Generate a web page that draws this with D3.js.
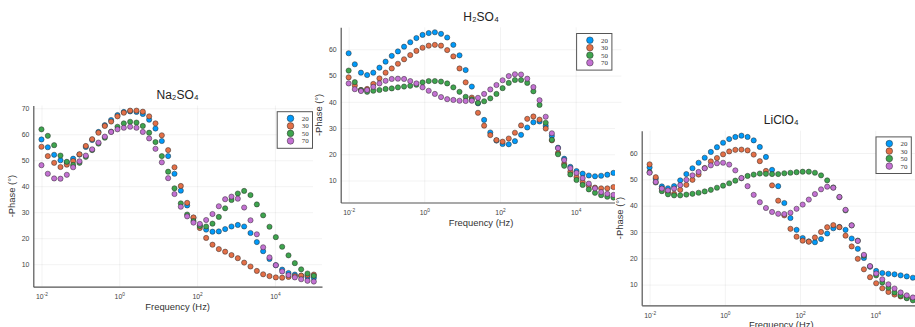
<!DOCTYPE html>
<html>
<head>
<meta charset="utf-8">
<script src="https://cdn.jsdelivr.net/npm/d3@7"></script>
<style>
  body { margin: 0; background: #fff; }
  svg { display: block; }
</style>
</head>
<body>
<svg id="chart" width="915" height="327"></svg>
<script>
// Measurement frequencies (Hz), log-spaced from 10 mHz to 100 kHz
const frequency = [0.01, 0.01455, 0.02117, 0.0308, 0.04481, 0.06518, 0.09478, 0.1379, 0.2007, 0.2919,
  0.4247, 0.6178, 0.8988, 1.307, 1.902, 2.767, 4.025, 5.855, 8.517, 12.39,
  18.02, 26.22, 38.14, 55.49, 80.72, 117.4, 170.8, 248.5, 361.5, 525.9,
  765.1, 1113, 1619, 2356, 3427, 4985, 7252, 10550, 15350, 22330,
  32480, 47250, 68740, 100000];

const seriesNames = ["20", "30", "50", "70"];
const seriesColors = ["#009AFA", "#E36F47", "#3EA44E", "#C371D2"];
const panelTitles = ["Na₂SO₄", "H₂SO₄", "LiClO₄"];
const yTickValues = [10, 20, 30, 40, 50, 60, 70];
const xTickExponents = [-2, 0, 2, 4];
const xLabel = "Frequency (Hz)";
const yLabel = "-Phase (°)";

// -Phase (degrees) per electrolyte and temperature
const na2so4_20 = [58.0, 55.0, 52.1, 50.0, 49.2, 50.6, 52.2, 55.1, 57.8, 60.9, 63.5, 65.5, 67.4, 68.6, 68.8, 68.6, 67.8, 65.6, 62.2, 57.4, 51.6, 44.8, 38.3, 32.6, 27.8, 24.8, 23.3, 22.5, 22.6, 23.5, 24.5, 25.1, 24.5, 22.0, 18.5, 15.0, 12.0, 9.6, 7.9, 6.6, 6.0, 5.5, 5.1, 4.7];
const na2so4_30 = [55.2, 51.6, 49.0, 47.4, 48.3, 49.7, 52.3, 55.5, 58.1, 60.6, 63.2, 64.9, 66.9, 68.3, 69.1, 69.1, 68.7, 66.9, 64.2, 59.6, 53.9, 47.3, 40.1, 33.6, 28.0, 23.9, 20.1, 17.5, 15.8, 14.8, 13.5, 12.3, 10.6, 9.1, 7.4, 6.1, 5.4, 4.9, 4.8, 5.1, 5.4, 5.6, 5.8, 6.0];
const na2so4_50 = [61.9, 59.4, 55.8, 51.8, 49.4, 48.2, 49.0, 51.3, 53.9, 56.4, 58.7, 61.0, 62.9, 64.2, 64.8, 64.5, 63.2, 60.6, 57.0, 51.6, 45.6, 39.2, 33.4, 29.1, 26.6, 24.7, 24.5, 25.6, 28.2, 31.5, 34.7, 37.2, 38.2, 36.6, 33.0, 28.8, 24.4, 20.4, 16.7, 13.4, 10.4, 8.0, 6.4, 5.5];
const na2so4_70 = [48.1, 44.8, 43.0, 42.9, 44.4, 47.3, 49.6, 51.8, 54.2, 56.8, 59.1, 60.9, 61.9, 62.5, 62.9, 62.5, 60.9, 58.4, 54.4, 49.2, 43.1, 37.0, 32.1, 28.4, 26.0, 25.5, 27.0, 29.3, 32.3, 35.0, 36.0, 35.2, 31.8, 26.9, 21.5, 16.5, 12.6, 9.6, 7.2, 5.8, 4.9, 4.2, 3.6, 3.3];

const h2so4_20 = [58.5, 54.3, 51.1, 50.2, 51.1, 53.0, 55.3, 57.5, 59.2, 61.0, 62.7, 64.3, 65.5, 66.2, 66.5, 65.9, 64.5, 61.7, 57.7, 52.1, 45.8, 39.4, 33.1, 28.3, 25.2, 23.9, 23.8, 25.0, 27.4, 30.2, 32.2, 32.5, 30.8, 27.0, 22.5, 18.3, 15.2, 13.6, 12.6, 11.9, 11.6, 11.8, 12.2, 12.9];
const h2so4_30 = [49.3, 46.2, 44.5, 44.9, 46.8, 48.9, 51.1, 52.7, 54.5, 56.2, 57.8, 59.4, 60.6, 61.4, 61.7, 61.4, 59.7, 57.3, 52.7, 47.4, 41.6, 35.8, 30.9, 27.3, 25.4, 24.8, 26.0, 28.2, 31.0, 33.5, 34.4, 33.2, 29.8, 25.3, 20.5, 16.3, 13.3, 11.3, 9.4, 8.0, 7.3, 7.0, 7.0, 7.5];
const h2so4_50 = [51.9, 47.5, 44.5, 43.8, 44.2, 44.5, 44.9, 45.1, 45.5, 45.8, 46.1, 46.5, 47.4, 47.9, 47.9, 47.7, 47.0, 45.5, 43.8, 41.9, 40.9, 39.6, 40.2, 41.3, 43.0, 45.2, 47.2, 48.3, 48.3, 47.2, 44.0, 38.8, 32.0, 25.5, 20.0, 15.6, 12.3, 10.2, 8.3, 6.6, 5.3, 4.4, 3.8, 3.5];
const h2so4_70 = [47.0, 44.8, 44.1, 44.5, 45.7, 47.0, 48.0, 48.7, 48.8, 48.7, 47.9, 47.0, 45.5, 44.2, 43.0, 41.8, 41.0, 40.7, 40.4, 40.3, 40.4, 41.5, 43.0, 44.7, 46.4, 48.2, 49.8, 50.5, 50.4, 48.8, 45.6, 40.6, 34.3, 28.0, 22.3, 17.8, 14.7, 12.9, 10.9, 8.8, 7.0, 5.6, 4.9, 4.5];

const liclo4_20 = [54.5, 50.2, 47.3, 46.6, 47.4, 49.6, 52.0, 54.2, 56.3, 58.2, 60.4, 62.2, 63.9, 65.3, 66.1, 66.6, 66.1, 64.8, 62.3, 58.5, 53.6, 47.4, 41.0, 35.3, 30.8, 27.7, 26.4, 26.1, 27.3, 29.4, 31.4, 31.9, 30.8, 27.5, 23.6, 20.1, 16.8, 15.2, 14.4, 14.1, 13.9, 13.5, 13.1, 12.6];
const liclo4_30 = [55.7, 50.8, 46.5, 45.1, 44.5, 46.0, 47.9, 49.8, 51.8, 54.3, 56.8, 58.1, 59.5, 60.6, 61.2, 61.3, 61.0, 59.4, 56.9, 53.2, 47.7, 41.9, 36.3, 31.2, 28.2, 26.7, 26.3, 27.9, 30.0, 31.8, 32.6, 31.8, 28.6, 24.5, 19.8, 15.8, 12.8, 10.5, 8.6, 7.2, 6.2, 5.5, 5.0, 4.6];
const liclo4_50 = [52.7, 48.8, 45.5, 44.3, 43.9, 43.9, 44.2, 44.5, 44.9, 45.4, 46.0, 46.8, 47.6, 48.5, 49.5, 50.4, 51.3, 51.8, 52.2, 52.1, 52.0, 52.0, 52.3, 52.5, 52.7, 52.9, 52.9, 52.5, 51.5, 49.6, 46.9, 43.2, 38.2, 32.5, 26.7, 21.0, 16.9, 13.5, 10.8, 8.8, 7.0, 5.8, 4.8, 4.0];
const liclo4_70 = [52.5, 49.0, 46.5, 45.8, 46.5, 47.8, 49.8, 51.5, 52.8, 54.2, 55.3, 56.1, 56.3, 55.6, 53.4, 50.5, 47.4, 44.1, 41.3, 39.1, 37.6, 36.9, 36.8, 37.3, 38.8, 40.4, 42.3, 44.4, 46.2, 47.2, 46.8, 43.3, 38.4, 32.5, 26.6, 21.3, 17.0, 14.2, 12.0, 10.1, 8.5, 7.0, 5.9, 5.1];

const svg = d3.select("#chart");
const sans = "'Liberation Sans', Arial, Helvetica, sans-serif";
const serif = "'Liberation Serif', 'Times New Roman', serif";

// Panel frames; later panels sit on top of earlier ones
const panels = [
  { title: panelTitles[0], series: [na2so4_20, na2so4_30, na2so4_50, na2so4_70],
    left: 33.3, right: 322, top: 105.5, bottom: 286.7, cover: null },
  { title: panelTitles[1], series: [h2so4_20, h2so4_30, h2so4_50, h2so4_70],
    left: 340.7, right: 621.4, top: 27.3, bottom: 202.5, cover: [313, 0, 602, 232] },
  { title: panelTitles[2], series: [liclo4_20, liclo4_30, liclo4_50, liclo4_70],
    left: 641.7, right: 920.8, top: 130.7, bottom: 305.3, cover: [615, 108, 300, 219] }
];

function drawPanel(p) {
  const g = svg.append("g");
  if (p.cover) {
    g.append("rect")
      .attr("x", p.cover[0]).attr("y", p.cover[1])
      .attr("width", p.cover[2]).attr("height", p.cover[3])
      .attr("fill", "#fff");
  }

  // limits widened by 3% on each side
  const all = p.series.flat();
  const lo = d3.min(all), hi = d3.max(all), pad = (hi - lo) * 0.03;
  const y = d3.scaleLinear().domain([lo - pad, hi + pad]).range([p.bottom, p.top]);
  const e0 = Math.log10(d3.min(frequency)), e1 = Math.log10(d3.max(frequency));
  const ep = (e1 - e0) * 0.03;
  const x = d3.scaleLog().domain([10 ** (e0 - ep), 10 ** (e1 + ep)]).range([p.left, p.right]);

  const yt = yTickValues.filter(v => v >= y.domain()[0] && v <= y.domain()[1]);
  const xt = xTickExponents.map(e => 10 ** e);
  const w = p.right - p.left, h = p.bottom - p.top;

  // grid
  g.append("g").attr("transform", `translate(${p.left},0)`)
    .call(d3.axisLeft(y).tickValues(yt).tickSize(-w).tickFormat(""))
    .call(a => a.select(".domain").remove())
    .selectAll("line").attr("stroke", "#000").attr("stroke-opacity", 0.08).attr("stroke-width", 0.7);
  g.append("g").attr("transform", `translate(0,${p.bottom})`)
    .call(d3.axisBottom(x).tickValues(xt).tickSize(-h).tickFormat(""))
    .call(a => a.select(".domain").remove())
    .selectAll("line").attr("stroke", "#000").attr("stroke-opacity", 0.08).attr("stroke-width", 0.7);

  // y axis
  const ya = g.append("g").attr("transform", `translate(${p.left},0)`)
    .call(d3.axisLeft(y).tickValues(yt).tickSize(0).tickPadding(4).tickFormat(d3.format("d")));
  ya.select(".domain").attr("stroke", "#555").attr("stroke-width", 1.2);
  ya.selectAll("text").attr("font-family", sans).attr("font-size", 6.9).attr("fill", "#444");

  // x axis with 10^n labels
  const xa = g.append("g").attr("transform", `translate(0,${p.bottom})`)
    .call(d3.axisBottom(x).tickValues(xt).tickSize(0).tickFormat(""));
  xa.select(".domain").attr("stroke", "#555").attr("stroke-width", 1.2);
  xa.selectAll(".tick text").remove();
  xa.selectAll(".tick").append("text")
    .attr("y", 12.5).attr("text-anchor", "middle")
    .attr("font-family", sans).attr("fill", "#444")
    .each(function (d) {
      const t = d3.select(this);
      t.append("tspan").attr("font-size", 6.9).text("10");
      t.append("tspan").attr("font-size", 4.8).attr("dy", -3).text(String(Math.round(Math.log10(d))));
    });

  // labels
  g.append("text").attr("x", (p.left + p.right) / 2).attr("y", p.top - 6.3)
    .attr("text-anchor", "middle").attr("font-family", sans).attr("font-size", 12)
    .attr("fill", "#222").text(p.title);
  g.append("text").attr("x", (p.left + p.right) / 2).attr("y", p.bottom + 23)
    .attr("text-anchor", "middle").attr("font-family", sans).attr("font-size", 9.4)
    .attr("fill", "#333").text(xLabel);
  g.append("text")
    .attr("transform", `translate(${p.left - 22},${(p.top + p.bottom) / 2}) rotate(-90)`)
    .attr("text-anchor", "middle").attr("dy", "0.35em")
    .attr("font-family", sans).attr("font-size", 9.4).attr("fill", "#333").text(yLabel);

  // markers
  p.series.forEach((vals, k) => {
    g.append("g").selectAll("circle")
      .data(vals.map((v, i) => ({ f: frequency[i], v })))
      .join("circle")
      .attr("cx", d => x(d.f)).attr("cy", d => y(d.v)).attr("r", 2.6)
      .attr("fill", seriesColors[k]).attr("stroke", "#2a2a2a").attr("stroke-width", 0.5);
  });

  // legend
  const lw = 35.3, lh = 36.6;
  const lx = p.right - 9.5 - lw, ly = p.top + 6.2;
  const lg = g.append("g").attr("transform", `translate(${lx},${ly})`);
  lg.append("rect").attr("width", lw).attr("height", lh)
    .attr("fill", "#fff").attr("stroke", "#555").attr("stroke-width", 1);
  seriesNames.forEach((name, k) => {
    const ry = 6.7 + k * 7.5;
    lg.append("circle").attr("cx", 13.3).attr("cy", ry).attr("r", 3.3)
      .attr("fill", seriesColors[k]).attr("stroke", "#2a2a2a").attr("stroke-width", 0.5);
    lg.append("text").attr("x", 24.5).attr("y", ry).attr("dy", "0.35em")
      .attr("font-family", serif).attr("font-size", 6.9).attr("fill", "#333").text(name);
  });
}

panels.forEach(drawPanel);
</script>
</body>
</html>
